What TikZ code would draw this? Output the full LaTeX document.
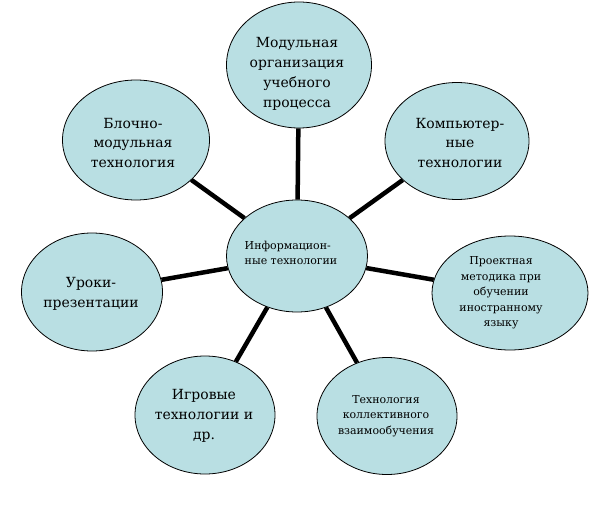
\documentclass[tikz,border=0pt]{standalone}
\usepackage{fontspec}
\newfontfamily\serfont{DejaVu Serif}
\usetikzlibrary{shapes.geometric}
\definecolor{bubfill}{HTML}{B9DFE3}
\begin{document}
\begin{tikzpicture}[x=1bp,y=-1bp,
  bub/.style={ellipse, draw=black, line width=0.8bp, fill=bubfill, inner sep=0pt},
  lbl/.style={align=center, inner sep=0pt},
  big/.style={font=\serfont\fontsize{14}{20}\selectfont},
  small/.style={font=\serfont\fontsize{11}{15.5}\selectfont},
  link/.style={line width=4.5bp, draw=black}]
\useasboundingbox (0,0) rectangle (593,506);
% ellipses
\node[bub, minimum width=145bp, minimum height=126bp] (top) at (299,65) {};
\node[bub, minimum width=147bp, minimum height=120bp] (bm) at (136,140) {};
\node[bub, minimum width=144bp, minimum height=117bp] (comp) at (457,141) {};
\node[bub, minimum width=141bp, minimum height=118bp] (les) at (92,292) {};
\node[bub, minimum width=156bp, minimum height=114bp] (proj) at (510,293) {};
\node[bub, minimum width=140bp, minimum height=118bp] (game) at (205,415) {};
\node[bub, minimum width=140bp, minimum height=117bp] (coll) at (387,416) {};
\node[bub, minimum width=141bp, minimum height=112bp] (info) at (297,256) {};
% connectors
\draw[link] (info) -- (top);
\draw[link] (info) -- (bm);
\draw[link] (info) -- (comp);
\draw[link] (info) -- (les);
\draw[link] (info) -- (proj);
\draw[link] (info) -- (game);
\draw[link] (info) -- (coll);
% texts
\node[lbl, big] (ttop) at (297,74) {Модульная\\организация\\учебного\\процесса};
\node[lbl, big] (tbm) at (133,143) {Блочно-\\модульная\\технология};
\node[lbl, big] (tcomp) at (460,143) {Компьютер-\\ные\\технологии};
\node[lbl, big] (tles) at (91,294) {Уроки-\\презентации};
\node[lbl, small] (tproj) at (501,293) {Проектная\\методика при\\обучении\\иностранному\\языку};
\node[lbl, big] (tgame) at (204,416) {Игровые\\технологии и\\др.};
\node[lbl, small] (tcoll) at (386,416) {Технология\\коллективного\\взаимообучения};
\node[lbl, small, align=left] (tinfo) at (291,253) {Информацион-\\ные технологии};
\end{tikzpicture}
\end{document}
